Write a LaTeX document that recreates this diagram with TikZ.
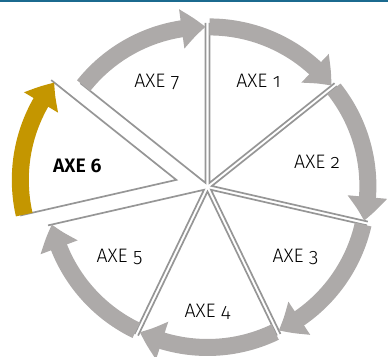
\documentclass[tikz,border=0pt]{standalone}
\usepackage{fontspec}
\setmainfont{Fira Sans}[UprightFont=* Light, BoldFont=* SemiBold, Numbers=OldStyle]
\usetikzlibrary{arrows.meta,bending,calc}
\definecolor{wheelgray}{RGB}{173,170,169}
\definecolor{edgegray}{RGB}{150,150,150}
\definecolor{axegold}{RGB}{196,150,0}
\definecolor{topline}{RGB}{27,106,143}

\begin{document}
\begin{tikzpicture}[
    x=1pt, y=1pt,
    slice/.style={draw=edgegray, line width=1.7pt, line join=miter},
    cyc/.style={wheelgray, line width=17pt, -{Triangle[length=24pt, width=38pt, bend]}},
    lbl/.style={font=\fontsize{19.5}{22}\selectfont, inner sep=0pt}
]
\useasboundingbox (0,0) rectangle (388,356);
\fill[topline] (0,353.5) rectangle (388,356);

\coordinate (O) at (207.5,169);

% slices, AXE 6 pulled out
\foreach \k in {1,...,7}{
  \pgfmathsetmacro{\s}{90-360/7*(\k-1)}
  \pgfmathsetmacro{\e}{\s-360/7}
  \pgfmathsetmacro{\m}{\s-180/7}
  \pgfmathsetmacro{\off}{\k==6 ? 32 : 4.5}
  \coordinate (p\k) at ($(O)+(\m:\off)$);
  \draw[slice] ($(p\k)+(\s:160)$) -- (p\k) -- ($(p\k)+(\e:160)$);
}

% arrows round the wheel
\foreach \k in {1,...,7}{
  \pgfmathsetmacro{\s}{90-360/7*(\k-1)}
  \pgfmathsetmacro{\e}{\s-360/7}
  \ifnum\k=6
    \draw[cyc, axegold] ($(p\k)+(\s:156)$) arc[start angle=\s, end angle=\e, radius=156];
  \else
    \draw[cyc] ($(p\k)+(\s:156)$) arc[start angle=\s, end angle=\e, radius=156];
  \fi
}

\node[lbl] (axe1) at ($(p1)+(64.29:113)$) {AXE 1};
\node[lbl] (axe2) at ($(p2)+(12.86:108)$) {AXE 2};
\node[lbl] (axe3) at ($(p3)+(-38.57:108)$) {AXE 3};
\node[lbl] (axe4) at ($(p4)+(-90:120)$) {AXE 4};
\node[lbl] (axe5) at ($(p5)+(-141.43:108)$) {AXE 5};
\node[lbl] (axe6) at ($(p6)+(172:100)$) {\bfseries AXE 6};
\node[lbl] (axe7) at ($(p7)+(115.71:112)$) {AXE 7};
\end{tikzpicture}
\end{document}
